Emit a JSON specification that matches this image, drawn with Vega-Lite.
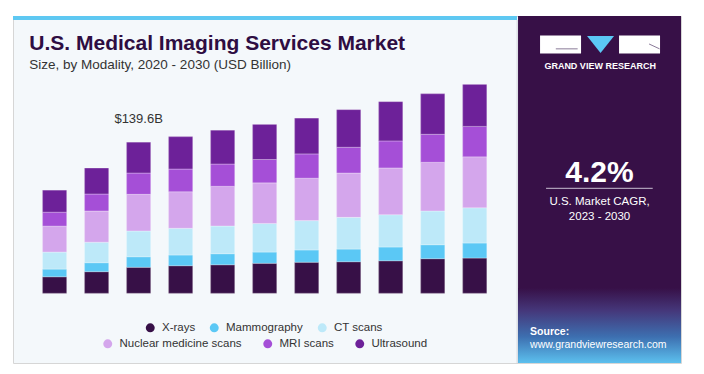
{
  "$schema": "https://vega.github.io/schema/vega-lite/v6.json",
  "width": 668,
  "height": 347,
  "autosize": {"type": "none"},
  "padding": {"left": 13, "top": 16, "right": 23, "bottom": 11},
  "background": "#ffffff",
  "config": {"view": {"fill": "#f4f8fb", "stroke": "#d6d6d6", "strokeWidth": 1}},
  "datasets": {
    "market": [
      {"year": 2020, "modality": "X-rays", "value": 15.3},
      {"year": 2020, "modality": "Mammography", "value": 7.1},
      {"year": 2020, "modality": "CT scans", "value": 15.7},
      {"year": 2020, "modality": "Nuclear medicine scans", "value": 24.0},
      {"year": 2020, "modality": "MRI scans", "value": 12.9},
      {"year": 2020, "modality": "Ultrasound", "value": 20.3},
      {"year": 2021, "modality": "X-rays", "value": 20.0},
      {"year": 2021, "modality": "Mammography", "value": 8.3},
      {"year": 2021, "modality": "CT scans", "value": 18.9},
      {"year": 2021, "modality": "Nuclear medicine scans", "value": 28.9},
      {"year": 2021, "modality": "MRI scans", "value": 15.7},
      {"year": 2021, "modality": "Ultrasound", "value": 24.0},
      {"year": 2022, "modality": "X-rays", "value": 24.0},
      {"year": 2022, "modality": "Mammography", "value": 9.8},
      {"year": 2022, "modality": "CT scans", "value": 23.8},
      {"year": 2022, "modality": "Nuclear medicine scans", "value": 33.9},
      {"year": 2022, "modality": "MRI scans", "value": 19.7},
      {"year": 2022, "modality": "Ultrasound", "value": 28.4},
      {"year": 2023, "modality": "X-rays", "value": 25.5},
      {"year": 2023, "modality": "Mammography", "value": 9.9},
      {"year": 2023, "modality": "CT scans", "value": 24.7},
      {"year": 2023, "modality": "Nuclear medicine scans", "value": 33.8},
      {"year": 2023, "modality": "MRI scans", "value": 21.0},
      {"year": 2023, "modality": "Ultrasound", "value": 29.9},
      {"year": 2024, "modality": "X-rays", "value": 26.4},
      {"year": 2024, "modality": "Mammography", "value": 10.2},
      {"year": 2024, "modality": "CT scans", "value": 25.6},
      {"year": 2024, "modality": "Nuclear medicine scans", "value": 36.7},
      {"year": 2024, "modality": "MRI scans", "value": 20.6},
      {"year": 2024, "modality": "Ultrasound", "value": 31.2},
      {"year": 2025, "modality": "X-rays", "value": 27.7},
      {"year": 2025, "modality": "Mammography", "value": 10.4},
      {"year": 2025, "modality": "CT scans", "value": 26.5},
      {"year": 2025, "modality": "Nuclear medicine scans", "value": 37.5},
      {"year": 2025, "modality": "MRI scans", "value": 21.6},
      {"year": 2025, "modality": "Ultrasound", "value": 32.4},
      {"year": 2026, "modality": "X-rays", "value": 28.7},
      {"year": 2026, "modality": "Mammography", "value": 11.4},
      {"year": 2026, "modality": "CT scans", "value": 27.1},
      {"year": 2026, "modality": "Nuclear medicine scans", "value": 39.2},
      {"year": 2026, "modality": "MRI scans", "value": 22.5},
      {"year": 2026, "modality": "Ultrasound", "value": 33.0},
      {"year": 2027, "modality": "X-rays", "value": 29.2},
      {"year": 2027, "modality": "Mammography", "value": 11.7},
      {"year": 2027, "modality": "CT scans", "value": 29.3},
      {"year": 2027, "modality": "Nuclear medicine scans", "value": 41.0},
      {"year": 2027, "modality": "MRI scans", "value": 23.8},
      {"year": 2027, "modality": "Ultrasound", "value": 34.8},
      {"year": 2028, "modality": "X-rays", "value": 30.1},
      {"year": 2028, "modality": "Mammography", "value": 12.7},
      {"year": 2028, "modality": "CT scans", "value": 29.9},
      {"year": 2028, "modality": "Nuclear medicine scans", "value": 43.2},
      {"year": 2028, "modality": "MRI scans", "value": 25.0},
      {"year": 2028, "modality": "Ultrasound", "value": 36.3},
      {"year": 2029, "modality": "X-rays", "value": 32.0},
      {"year": 2029, "modality": "Mammography", "value": 12.9},
      {"year": 2029, "modality": "CT scans", "value": 31.2},
      {"year": 2029, "modality": "Nuclear medicine scans", "value": 45.0},
      {"year": 2029, "modality": "MRI scans", "value": 25.9},
      {"year": 2029, "modality": "Ultrasound", "value": 37.5},
      {"year": 2030, "modality": "X-rays", "value": 32.6},
      {"year": 2030, "modality": "Mammography", "value": 13.9},
      {"year": 2030, "modality": "CT scans", "value": 32.6},
      {"year": 2030, "modality": "Nuclear medicine scans", "value": 47.1},
      {"year": 2030, "modality": "MRI scans", "value": 28.1},
      {"year": 2030, "modality": "Ultrasound", "value": 38.8}
    ]
  },
  "layer": [
    {
      "data": {"values": [{}]},
      "mark": {"type": "rect", "color": "#371047"},
      "encoding": {
        "x": {"datum": 2031.031, "type": "quantitative", "axis": null, "scale": {"domain": [2019.01, 2034.91], "nice": false, "zero": false, "padding": 0}},
        "x2": {"datum": 2034.91},
        "y": {"datum": 256.37, "type": "quantitative", "axis": null, "scale": {"domain": [-64.44, 256.37], "nice": false, "zero": false, "padding": 0}},
        "y2": {"datum": -64.44}
      }
    },
    {
      "data": {"values": [{}]},
      "mark": {"type": "rect", "color": {"gradient": "linear", "x1": 0, "y1": 0, "x2": 0, "y2": 1, "stops": [
        {"offset": 0, "color": "#371047"},
        {"offset": 0.3, "color": "#45377a"},
        {"offset": 0.65, "color": "#3d6fb0"},
        {"offset": 1, "color": "#5cc0ee"}
      ]}},
      "encoding": {
        "x": {"datum": 2031.031, "type": "quantitative", "axis": null},
        "x2": {"datum": 2034.91},
        "y": {"datum": 4.9, "type": "quantitative", "axis": null},
        "y2": {"datum": -64.44}
      }
    },
    {
      "data": {"values": [{}]},
      "mark": {"type": "rect", "color": "#5ec8f2"},
      "encoding": {
        "x": {"datum": 2019.01, "type": "quantitative", "axis": null},
        "x2": {"datum": 2031.007},
        "y": {"datum": 256.37, "type": "quantitative", "axis": null},
        "y2": {"datum": 252.67}
      }
    },
    {
      "data": {"values": [{}]},
      "mark": {"type": "rule", "color": "#cfd3d8", "strokeWidth": 1},
      "encoding": {
        "x": {"datum": 2031.01, "type": "quantitative", "axis": null},
        "y": {"datum": 252.67, "type": "quantitative", "axis": null},
        "y2": {"datum": -64.44}
      }
    },
    {
      "data": {"values": [{}]},
      "mark": {"type": "rect", "color": "#ffffff"},
      "encoding": {
        "x": {"datum": 2031.555, "type": "quantitative", "axis": null},
        "x2": {"datum": 2032.531},
        "y": {"datum": 238.3, "type": "quantitative", "axis": null},
        "y2": {"datum": 221.7}
      }
    },
    {
      "data": {"values": [{}]},
      "mark": {"type": "rect", "color": "#ffffff"},
      "encoding": {
        "x": {"datum": 2033.435, "type": "quantitative", "axis": null},
        "x2": {"datum": 2034.411},
        "y": {"datum": 238.3, "type": "quantitative", "axis": null},
        "y2": {"datum": 221.7}
      }
    },
    {
      "data": {"values": [{}]},
      "mark": {"type": "rule", "color": "#8a7a98", "strokeWidth": 1},
      "encoding": {
        "x": {"datum": 2031.93, "type": "quantitative", "axis": null},
        "x2": {"datum": 2032.45},
        "y": {"datum": 226.0, "type": "quantitative", "axis": null}
      }
    },
    {
      "data": {"values": [{}]},
      "mark": {"type": "rule", "color": "#8a7a98", "strokeWidth": 1},
      "encoding": {
        "x": {"datum": 2034.15, "type": "quantitative", "axis": null},
        "x2": {"datum": 2034.4},
        "y": {"datum": 230.5, "type": "quantitative", "axis": null},
        "y2": {"datum": 226.0}
      }
    },
    {
      "data": {"values": [{}]},
      "mark": {"type": "point", "shape": "M-1,-0.63L1,-0.63L0,0.63Z", "size": 729, "filled": true, "color": "#5bc8f5", "opacity": 1, "strokeWidth": 0},
      "encoding": {
        "x": {"datum": 2032.995, "type": "quantitative", "axis": null},
        "y": {"datum": 230.02, "type": "quantitative", "axis": null}
      }
    },
    {
      "data": {"values": [{"t": "GRAND VIEW RESEARCH"}]},
      "mark": {"type": "text", "align": "center", "baseline": "alphabetic", "font": "Liberation Sans", "fontWeight": "bold", "fontSize": 9, "color": "#ffffff"},
      "encoding": {
        "x": {"datum": 2032.985, "type": "quantitative", "axis": null},
        "y": {"datum": 207.36, "type": "quantitative", "axis": null},
        "text": {"field": "t", "type": "nominal"}
      }
    },
    {
      "data": {"values": [{"t": "4.2%"}]},
      "mark": {"type": "text", "align": "center", "baseline": "alphabetic", "font": "Liberation Sans", "fontWeight": "bold", "fontSize": 30, "color": "#ffffff"},
      "encoding": {
        "x": {"datum": 2032.971, "type": "quantitative", "axis": null},
        "y": {"datum": 103.17, "type": "quantitative", "axis": null},
        "text": {"field": "t", "type": "nominal"}
      }
    },
    {
      "data": {"values": [{}]},
      "mark": {"type": "rule", "color": "#c9c0d2", "strokeWidth": 1},
      "encoding": {
        "x": {"datum": 2031.698, "type": "quantitative", "axis": null},
        "x2": {"datum": 2034.237},
        "y": {"datum": 97.07, "type": "quantitative", "axis": null}
      }
    },
    {
      "data": {"values": [{"t": "U.S. Market CAGR,"}]},
      "mark": {"type": "text", "align": "center", "baseline": "alphabetic", "font": "Liberation Sans", "fontSize": 11.5, "color": "#ffffff"},
      "encoding": {
        "x": {"datum": 2032.971, "type": "quantitative", "axis": null},
        "y": {"datum": 81.63, "type": "quantitative", "axis": null},
        "text": {"field": "t", "type": "nominal"}
      }
    },
    {
      "data": {"values": [{"t": "2023 - 2030"}]},
      "mark": {"type": "text", "align": "center", "baseline": "alphabetic", "font": "Liberation Sans", "fontSize": 11.5, "color": "#ffffff"},
      "encoding": {
        "x": {"datum": 2032.971, "type": "quantitative", "axis": null},
        "y": {"datum": 67.77, "type": "quantitative", "axis": null},
        "text": {"field": "t", "type": "nominal"}
      }
    },
    {
      "data": {"values": [{"t": "Source:"}]},
      "mark": {"type": "text", "align": "left", "baseline": "alphabetic", "font": "Liberation Sans", "fontWeight": "bold", "fontSize": 10.5, "color": "#ffffff"},
      "encoding": {
        "x": {"datum": 2031.317, "type": "quantitative", "axis": null},
        "y": {"datum": -38.55, "type": "quantitative", "axis": null},
        "text": {"field": "t", "type": "nominal"}
      }
    },
    {
      "data": {"values": [{"t": "www.grandviewresearch.com"}]},
      "mark": {"type": "text", "align": "left", "baseline": "alphabetic", "font": "Liberation Sans", "fontSize": 10.5, "color": "#ffffff"},
      "encoding": {
        "x": {"datum": 2031.317, "type": "quantitative", "axis": null},
        "y": {"datum": -50.11, "type": "quantitative", "axis": null},
        "text": {"field": "t", "type": "nominal"}
      }
    },
    {
      "data": {"values": [{"t": "U.S. Medical Imaging Services Market"}]},
      "mark": {"type": "text", "align": "left", "baseline": "alphabetic", "font": "Liberation Sans", "fontWeight": "bold", "fontSize": 21, "color": "#2e0d42"},
      "encoding": {
        "x": {"datum": 2019.398, "type": "quantitative", "axis": null},
        "y": {"datum": 224.93, "type": "quantitative", "axis": null},
        "text": {"field": "t", "type": "nominal"}
      }
    },
    {
      "data": {"values": [{"t": "Size, by Modality, 2020 - 2030 (USD Billion)"}]},
      "mark": {"type": "text", "align": "left", "baseline": "alphabetic", "font": "Liberation Sans", "fontSize": 13.5, "color": "#333333"},
      "encoding": {
        "x": {"datum": 2019.398, "type": "quantitative", "axis": null},
        "y": {"datum": 207.36, "type": "quantitative", "axis": null},
        "text": {"field": "t", "type": "nominal"}
      }
    },
    {
      "data": {"name": "market"},
      "transform": [
        {"lookup": "modality", "from": {"data": {"values": [
          {"modality": "X-rays", "rank": 1},
          {"modality": "Mammography", "rank": 2},
          {"modality": "CT scans", "rank": 3},
          {"modality": "Nuclear medicine scans", "rank": 4},
          {"modality": "MRI scans", "rank": 5},
          {"modality": "Ultrasound", "rank": 6}
        ]}, "key": "modality", "fields": ["rank"]}}
      ],
      "mark": {"type": "bar", "size": 24, "stroke": "#ffffff", "strokeWidth": 0.6, "strokeOpacity": 0.5},
      "encoding": {
        "x": {"field": "year", "type": "quantitative", "axis": {"values": [2020, 2021, 2022, 2023, 2024, 2025, 2026, 2027, 2028, 2029, 2030], "format": "d", "domain": false, "ticks": false, "grid": false, "title": null, "labelFont": "Liberation Sans", "labelFontSize": 12.5, "labelColor": "#333333", "labelPadding": 3, "labelOverlap": false, "offset": -69.7, "zindex": 1}},
        "y": {"field": "value", "type": "quantitative", "stack": "zero", "axis": null},
        "order": {"field": "rank", "type": "quantitative", "sort": "ascending"},
        "color": {"field": "modality", "type": "nominal",
          "scale": {"domain": ["X-rays", "Mammography", "CT scans", "Nuclear medicine scans", "MRI scans", "Ultrasound"], "range": ["#371047", "#5bc8f5", "#bde9f9", "#d4a6ec", "#a54fd7", "#6d2199"]},
          "legend": {"values": ["X-rays", "Mammography", "CT scans"], "orient": "none", "legendX": 131.5, "legendY": 305.7, "direction": "horizontal", "title": null, "symbolType": "circle", "symbolSize": 80, "symbolStrokeWidth": 0, "labelFont": "Liberation Sans", "labelFontSize": 11.5, "labelColor": "#333333", "labelOffset": 6, "columnPadding": 13, "padding": 0}}
      }
    },
    {
      "data": {"name": "market"},
      "transform": [
        {"lookup": "modality", "from": {"data": {"values": [
          {"modality": "X-rays", "rank": 1},
          {"modality": "Mammography", "rank": 2},
          {"modality": "CT scans", "rank": 3},
          {"modality": "Nuclear medicine scans", "rank": 4},
          {"modality": "MRI scans", "rank": 5},
          {"modality": "Ultrasound", "rank": 6}
        ]}, "key": "modality", "fields": ["rank"]}}
      ],
      "mark": {"type": "bar", "size": 24, "stroke": "#ffffff", "strokeWidth": 0.6, "strokeOpacity": 0.5},
      "encoding": {
        "x": {"field": "year", "type": "quantitative", "axis": null},
        "y": {"field": "value", "type": "quantitative", "stack": "zero", "axis": null},
        "order": {"field": "rank", "type": "quantitative", "sort": "ascending"},
        "fill": {"field": "modality", "type": "nominal",
          "scale": {"domain": ["Ultrasound", "MRI scans", "Nuclear medicine scans", "CT scans", "Mammography", "X-rays"], "range": ["#6d2199", "#a54fd7", "#d4a6ec", "#bde9f9", "#5bc8f5", "#371047"]},
          "legend": {"values": ["Nuclear medicine scans", "MRI scans", "Ultrasound"], "orient": "none", "legendX": 89, "legendY": 321.7, "direction": "horizontal", "title": null, "symbolType": "circle", "symbolSize": 80, "symbolStrokeWidth": 0, "labelFont": "Liberation Sans", "labelFontSize": 11.5, "labelColor": "#333333", "labelOffset": 6, "columnPadding": 20, "padding": 0}}
      }
    },
    {
      "data": {"values": [{"year": 2022, "total": 139.6, "label": "$139.6B"}]},
      "mark": {"type": "text", "align": "center", "baseline": "middle", "dy": -23, "font": "Liberation Sans", "fontSize": 13, "color": "#333333"},
      "encoding": {
        "x": {"field": "year", "type": "quantitative", "axis": null},
        "y": {"field": "total", "type": "quantitative", "axis": null},
        "text": {"field": "label", "type": "nominal"}
      }
    }
  ]
}
